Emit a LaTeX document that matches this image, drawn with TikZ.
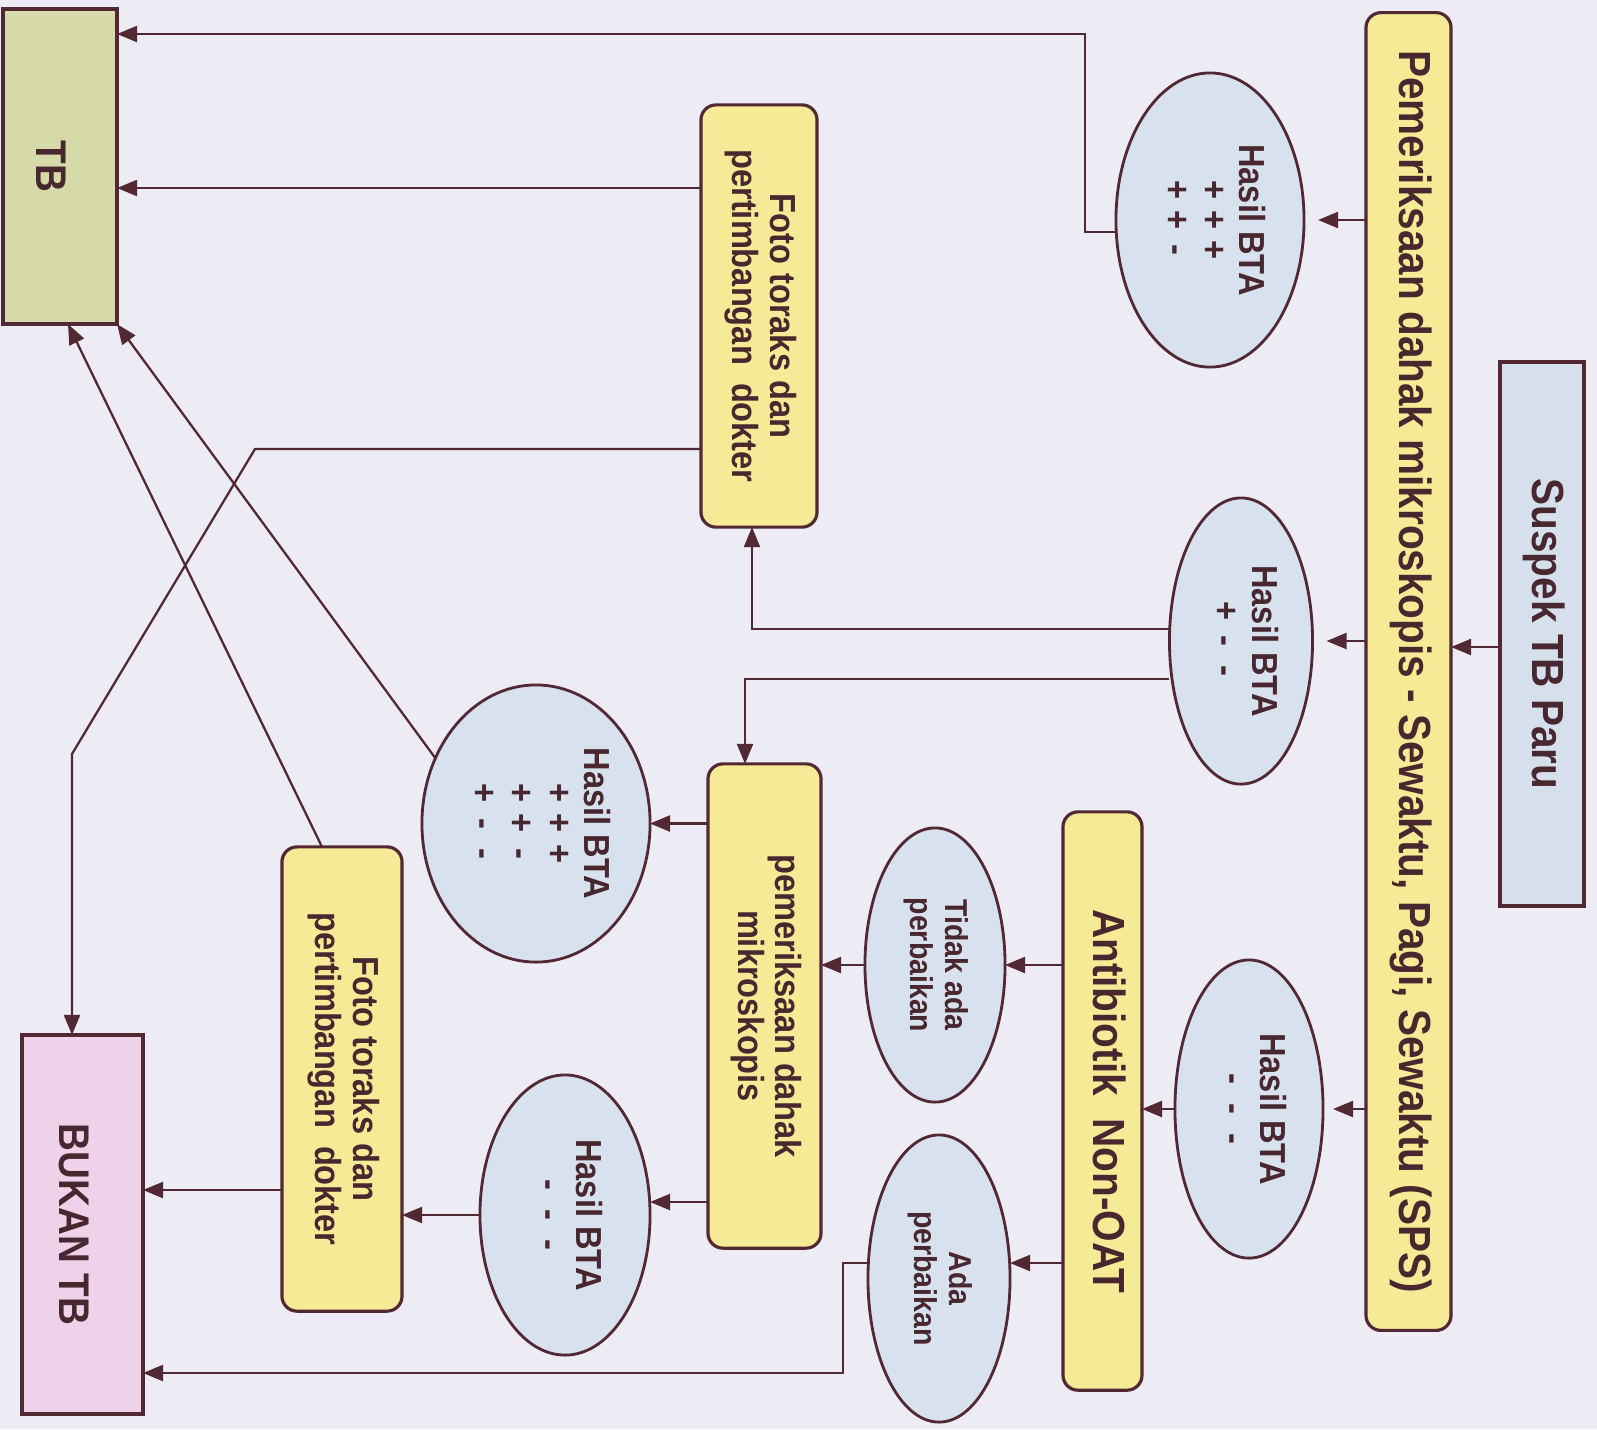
\documentclass[tikz,border=0pt]{standalone}
\usepackage{graphicx}
\usepackage{fontspec}
\setmainfont{Liberation Sans}[FakeStretch=0.9]
\usetikzlibrary{shapes.geometric,arrows.meta,calc}
\definecolor{bgc}{RGB}{237,236,244}
\definecolor{lnc}{RGB}{82,40,50}
\definecolor{txc}{RGB}{72,40,46}
\definecolor{yel}{RGB}{245,234,150}
\definecolor{ellc}{RGB}{216,225,238}
\definecolor{susp}{RGB}{214,224,237}
\definecolor{tbc}{RGB}{214,217,168}
\definecolor{pinkc}{RGB}{238,210,234}
\newcommand{\rt}[1]{\rotatebox{-90}{\begin{tabular}{@{}c@{}}#1\end{tabular}}}
\newcommand{\sy}[1]{\makebox[0.83em]{#1}}
\begin{document}
\begin{tikzpicture}[x=0.01cm,y=-0.01cm,
  bigf/.style={font=\fontsize{12.8}{13.5}\selectfont\bfseries},
  tbf/.style={font=\fontsize{12.2}{13}\selectfont\bfseries},
  medf/.style={font=\fontsize{10.3}{10.6}\selectfont\bfseries},
  smlf/.style={font=\fontsize{9}{10}\selectfont\bfseries},
  ybox/.style={draw=lnc, line width=0.9pt, fill=yel, rounded corners=0.15cm, inner sep=0pt, outer sep=0pt, text=txc},
  bbox/.style={draw=lnc, line width=1pt, inner sep=0pt, outer sep=0pt, text=txc},
  ell/.style={ellipse, draw=lnc, line width=0.8pt, fill=ellc, inner sep=0pt, outer sep=0pt, text=txc, medf},
  arr/.style={draw=lnc, line width=0.65pt, -{Triangle[length=0.2cm,width=0.16cm]}}]
\fill[bgc] (0,0) rectangle (1597,1429);
\useasboundingbox (0,0) rectangle (1597,1429);

% nodes
\node[bbox, fill=susp, minimum width=0.84cm, minimum height=5.44cm, bigf] (suspek) at (1542,634) {\rt{Suspek TB Paru}};
\node[ybox, minimum width=0.85cm, minimum height=13.17cm, bigf] (sps) at (1408.5,671.5) {\rt{Pemeriksaan dahak mikroskopis - Sewaktu, Pagi, Sewaktu (SPS)}};
\node[ell, minimum width=1.88cm, minimum height=2.94cm] (e1) at (1210,220) {\rt{Hasil BTA\\ \sy{+}\sy{+}\sy{+}\\ \sy{+}\sy{+}\sy{-}}};
\node[ell, minimum width=1.43cm, minimum height=2.86cm] (e2) at (1241,641) {\rt{Hasil BTA\\ \sy{+}\sy{-}\sy{-}}};
\node[ell, minimum width=1.48cm, minimum height=2.98cm] (e4) at (1249,1109) {\rt{Hasil BTA\\ \sy{-}\sy{-}\sy{-}}};
\node[ybox, minimum width=0.79cm, minimum height=5.78cm, bigf] (anti) at (1102.5,1101) {\rt{Antibiotik~ Non-OAT}};
\node[ell, smlf, minimum width=1.40cm, minimum height=2.74cm] (e5) at (935,965) {\rt{Tidak ada\\ perbaikan}};
\node[ell, smlf, minimum width=1.42cm, minimum height=2.87cm] (e6) at (939,1278.5) {\rt{Ada\\ perbaikan}};
\node[ybox, medf, minimum width=1.16cm, minimum height=4.22cm] (foto1) at (759,316) {\rt{Foto toraks dan\\ pertimbangan~ dokter}};
\node[ybox, medf, minimum width=1.13cm, minimum height=4.84cm] (pem2) at (764.5,1006) {\rt{pemeriksaan dahak\\ mikroskopis}};
\node[ell, minimum width=2.28cm, minimum height=2.77cm] (e3) at (536,823.5) {\rt{Hasil BTA\\ \sy{+}\sy{+}\sy{+}\\ \sy{+}\sy{+}\sy{-}\\ \sy{+}\sy{-}\sy{-}}};
\node[ell, minimum width=1.70cm, minimum height=2.80cm] (e7) at (565,1215) {\rt{Hasil BTA\\ \sy{-}\sy{-}\sy{-}}};
\node[ybox, medf, minimum width=1.20cm, minimum height=4.64cm] (foto2) at (342,1079) {\rt{Foto toraks dan\\ pertimbangan~ dokter}};
\node[bbox, fill=tbc, tbf, minimum width=1.14cm, minimum height=3.15cm] (tb) at (60,166.5) {\rt{\raisebox{-0.15cm}{TB}}};
\node[bbox, fill=pinkc, tbf, minimum width=1.21cm, minimum height=3.79cm] (bukan) at (82.5,1224.5) {\rt{\raisebox{-0.14cm}{BUKAN TB}}};

% bend points
\coordinate (c1) at (1085,232);
\coordinate (c2) at (1085,34);
\coordinate (yf1) at (0,188);
\coordinate (c3) at (752,629);
\coordinate (c4) at (745,679);
\coordinate (c5) at (255,449);
\coordinate (c6) at (72,754);
\coordinate (yp) at (0,1202);
\coordinate (yb) at (0,1190);
\coordinate (c7) at (843,1263);
\coordinate (c8) at (843,1373);
\coordinate (ys) at (0,647);

% connectors
\draw[arr] (suspek.west |- ys) -- (sps.east |- ys);
\draw[arr, shorten >=0.14cm] (sps.west |- e1.east) -- (e1.east);
\draw[arr, shorten >=0.14cm] (sps.west |- e2.east) -- (e2.east);
\draw[arr, shorten >=0.10cm] (sps.west |- e4.east) -- (e4.east);
\draw[arr] (e1.west |- c1) -- (c1) -- (c2) -- (tb.east |- c2);
\draw[arr] (foto1.west |- yf1) -- (tb.east |- yf1);
\draw[arr] (e2.west |- c3) -- (c3) -- (c3 |- foto1.south);
\draw[arr] (e2.west |- c4) -- (c4) -- (c4 |- pem2.north);
\draw[arr] (foto1.west |- c5) -- (c5) -- (c6) -- (c6 |- bukan.north);
\draw[arr] (e4.west) -- (anti.east |- e4.west);
\draw[arr] (anti.west |- e5.east) -- (e5.east);
\draw[arr] (anti.west |- c7) -- (e6.east |- c7);
\draw[arr] (e5.west) -- (pem2.east |- e5.west);
\draw[arr] (e6.west |- c7) -- (c7) -- (c8) -- (bukan.east |- c8);
\draw[arr] (pem2.west |- e3.east) -- (e3.east);
\draw[arr] (pem2.west |- yp) -- (e7.east |- yp);
\draw[arr] (e3.147) -- (tb.south east);
\draw[arr] (e7.west) -- (foto2.east |- e7.west);
\draw[arr] ($(foto2.north)+(-20,0)$) -- ($(tb.south)+(8,0)$);
\draw[arr] (foto2.west |- yb) -- (bukan.east |- yb);
\end{tikzpicture}
\end{document}
